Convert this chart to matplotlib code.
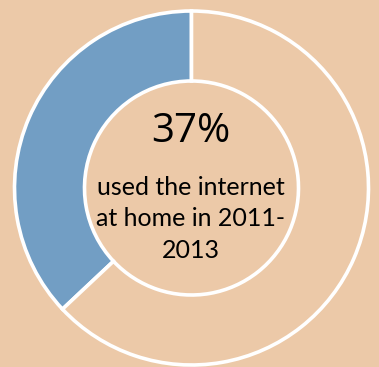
import matplotlib
matplotlib.use("Agg")
import matplotlib.pyplot as plt

labels = ["Used internet at home", "Did not"]
values = [37, 63]
colors = ["#729ec4", "#ecc9a8"]
big_label = "37%"
caption = "used the internet\nat home in 2011-\n2013"

bg = "#ecc9a8"
fig = plt.figure(figsize=(3.79, 3.67), dpi=100, facecolor=bg)
ax = fig.add_axes([0, 0, 1, 1])
ax.set_facecolor(bg)

ax.pie(values, colors=colors, startangle=90, counterclock=True,
       center=(191.5, 179), radius=177, frame=True,
       wedgeprops=dict(width=70, edgecolor="white", linewidth=2.6))
ax.set_xlim(0, 379)
ax.set_ylim(0, 367)
ax.set_aspect("auto")
ax.axis("off")

ax.text(191, 235, big_label, ha="center", va="center", fontsize=29,
        family="Open Sans", color="black")
ax.text(191, 148, caption, ha="center", va="center", fontsize=18,
        family="Lato", color="black", linespacing=1.45)

fig.savefig("out.png", dpi=100, facecolor=bg)
